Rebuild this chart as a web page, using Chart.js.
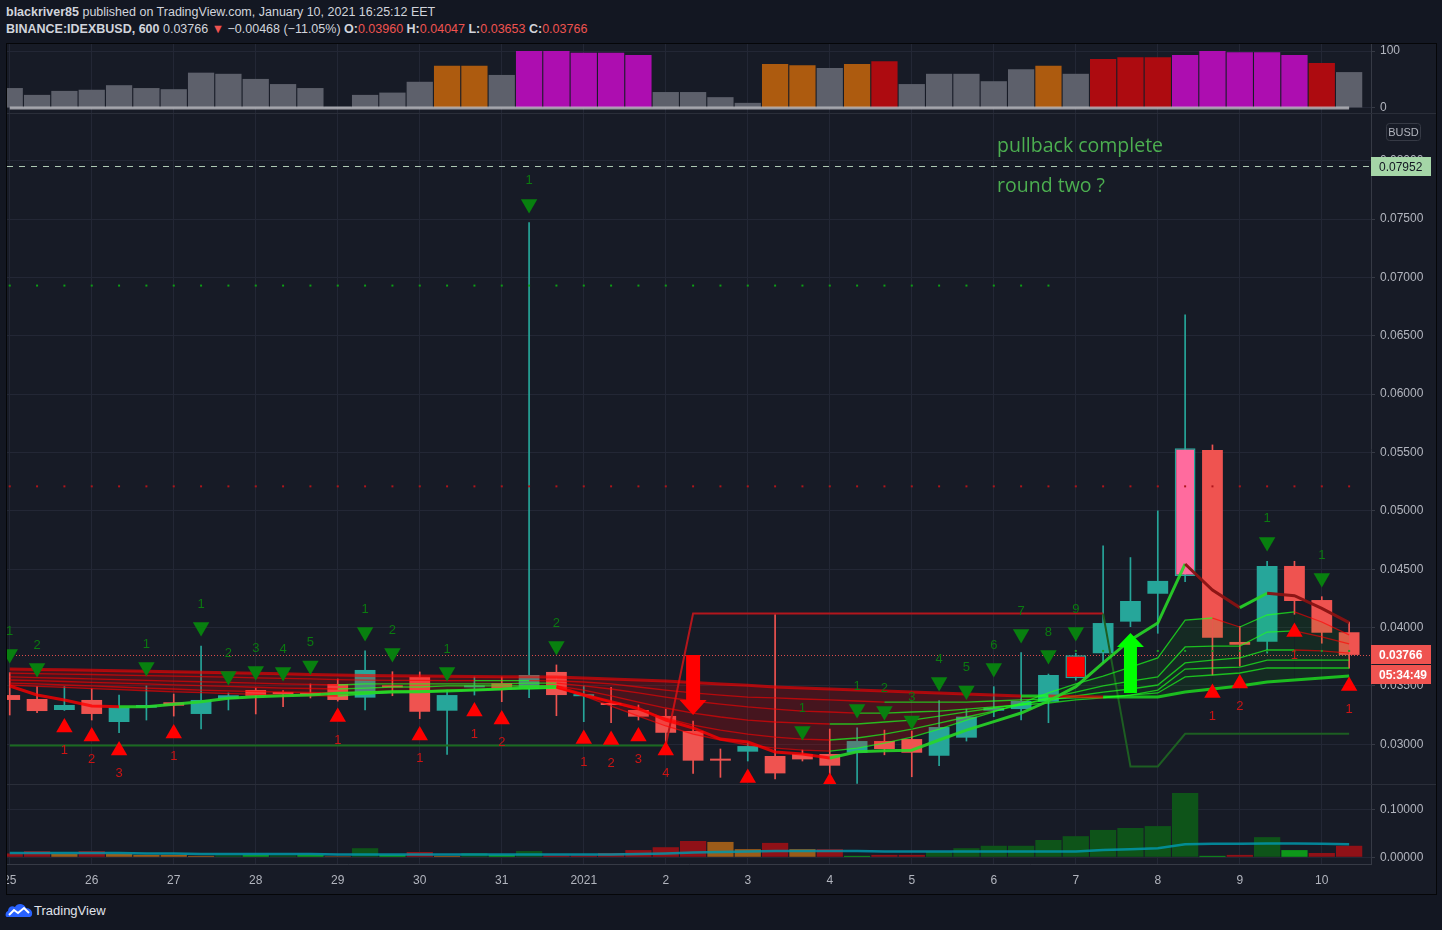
<!DOCTYPE html>
<html>
<head>
<meta charset="utf-8">
<title>IDEXBUSD</title>
<script src="https://cdn.jsdelivr.net/npm/chart.js@4.4.1/dist/chart.umd.min.js"></script>
<style>
  html, body { margin: 0; padding: 0; }
  body { width: 1442px; height: 930px; background: #131722; overflow: hidden; position: relative;
         font-family: "Liberation Sans", Arial, sans-serif; color: #d1d4dc; }
  .hdr { position: absolute; left: 6px; font-size: 12.5px; white-space: nowrap; }
  #hdr1 { top: 5px; }
  #hdr2 { top: 22px; }
  .r { color: #ef5350; }
  #frame { position: absolute; left: 6px; top: 43px; width: 1429px; height: 850px; border: 1px solid #050608; background: #171b26; }
  .pane { position: absolute; left: 7px; width: 1429px; }
  .sep { position: absolute; left: 7px; width: 1429px; height: 1px; background: #2a2e39; }
  #logo { position: absolute; left: 5px; top: 902px; display: flex; align-items: center; font-size: 13px; color: #e0e3eb; }
  #logo svg { margin-right: 1px; }
</style>
</head>
<body>
<div id="hdr1" class="hdr"><b>blackriver85</b> published on TradingView.com, January 10, 2021 16:25:12 EET</div>
<div id="hdr2" class="hdr"><b>BINANCE:IDEXBUSD, 600</b> 0.03766 <span class="r">▼</span> −0.00468 (−11.05%) <b>O:</b><span class="r">0.03960</span> <b>H:</b><span class="r">0.04047</span> <b>L:</b><span class="r">0.03653</span> <b>C:</b><span class="r">0.03766</span></div>
<div id="frame"></div>
<div class="pane" style="top:44px;height:69px"><canvas id="cTop"></canvas></div>
<div class="sep" style="top:113px"></div>
<div class="pane" style="top:114px;height:670px"><canvas id="cMain"></canvas></div>
<div class="sep" style="top:784px"></div>
<div class="pane" style="top:785px;height:108px"><canvas id="cVol"></canvas></div>
<div id="logo">
  <svg width="28" height="16" viewBox="0 0 28 16"><path d="M2 15 C0 15 0 10 3 9 C3 5 7 3 10 5 C12 1 19 1 21 6 C25 6 28 9 27 13 C26 15 25 15 24 15 Z" fill="#2962ff"/><path d="M4 13 L9 8 L13 11 L19 6 L24 11" stroke="#fff" stroke-width="2" fill="none"/></svg>
  <span>TradingView</span>
</div>
<script>
// ---- data ----
const dayLabels = ['25','26','27','28','29','30','31','2021','2','3','4','5','6','7','8','9','10'];
const dayStart  = [0,3,6,9,12,15,18,21,24,27,30,33,36,39,42,45,48];

const opens  = [0.03422,0.03388,0.03294,0.03380,0.03191,0.03314,0.03360,0.03260,0.03388,0.03465,
                0.03448,0.03442,0.03517,0.03400,0.03498,0.03577,0.03288,0.03488,0.03523,0.03476,
                0.03620,0.03412,0.03340,0.03294,0.03243,0.03114,0.02862,0.02937,0.02900,0.02917,
                0.02917,0.02928,0.03028,0.03045,0.02902,0.03057,0.03288,0.03302,0.03365,0.03763,
                0.03780,0.04051,0.04290,0.04442,0.05522,0.03877,0.03879,0.04528,0.04236,0.03960];
const highs  = [0.03614,0.03494,0.03494,0.03476,0.03422,0.03500,0.03431,0.03842,0.03440,0.03482,
                0.03460,0.03517,0.03560,0.03800,0.03622,0.03620,0.03465,0.03577,0.03577,0.07470,
                0.03680,0.03500,0.03488,0.03337,0.03300,0.03200,0.02960,0.03014,0.04111,0.02951,
                0.03131,0.03142,0.03122,0.03114,0.03374,0.03302,0.03494,0.03785,0.03602,0.03780,
                0.04700,0.04600,0.05000,0.06680,0.05565,0.04010,0.04568,0.04568,0.04265,0.04047];
const lows   = [0.03251,0.03271,0.03290,0.03208,0.03099,0.03208,0.03242,0.03131,0.03294,0.03260,
                0.03322,0.03397,0.03370,0.03294,0.03416,0.03220,0.02914,0.03422,0.03365,0.03400,
                0.03245,0.03194,0.03185,0.03208,0.03000,0.02751,0.02717,0.02857,0.02703,0.02857,
                0.02700,0.02666,0.02910,0.02722,0.02817,0.03028,0.03237,0.03208,0.03185,0.03550,
                0.03700,0.04008,0.03951,0.04393,0.03594,0.03670,0.03780,0.04114,0.03866,0.03653];
const closes = [0.03380,0.03285,0.03337,0.03260,0.03314,0.03337,0.03331,0.03380,0.03420,0.03416,
                0.03431,0.03422,0.03380,0.03637,0.03488,0.03279,0.03422,0.03505,0.03471,0.03594,
                0.03422,0.03414,0.03337,0.03237,0.03099,0.02860,0.02860,0.02985,0.02751,0.02871,
                0.02817,0.03028,0.02960,0.02928,0.03148,0.03237,0.03314,0.03371,0.03594,0.03566,
                0.04039,0.04228,0.04400,0.05536,0.03913,0.03853,0.04528,0.04228,0.03956,0.03766];

// ribbon of moving averages, slowest (rib1) to faster (rib6), plus the fast line
const rib1 = [0.03645,0.03642,0.03638,0.03634,0.03630,0.03626,0.03622,0.03618,0.03613,0.03609,0.03604,0.03599,0.03594,
              0.03590,0.03587,0.03585,0.03583,0.03581,0.03579,0.03578,0.03577,
              0.03568,0.03560,0.03551,0.03542,0.03530,0.03517,0.03505,0.03491,0.03482,0.03474,
              0.03465,0.03457,0.03448,0.03440,0.03431,0.03422,0.03414,
              0.03414,0.03410,0.03405,0.03405,0.03405,
              0.03448,0.03474,0.03500,0.03534,0.03551,0.03568,0.03585];
const rib2 = [0.03610,0.03606,0.03602,0.03598,0.03593,0.03589,0.03584,0.03580,0.03575,0.03570,0.03565,0.03560,0.03555,
              0.03550,0.03548,0.03547,0.03546,0.03545,0.03545,0.03545,0.03543,
              0.03534,0.03517,0.03491,0.03465,0.03440,0.03422,0.03405,0.03397,0.03388,0.03380,
              0.03371,0.03362,0.03362,0.03362,0.03362,0.03371,0.03380,
              0.03388,0.03397,0.03405,0.03422,0.03440,
              0.03577,0.03594,0.03611,0.03654,0.03654,0.03654,0.03654];
const rib3 = [0.03577,0.03572,0.03566,0.03560,0.03554,0.03548,0.03542,0.03536,0.03530,0.03524,0.03518,0.03513,0.03508,
              0.03517,0.03517,0.03517,0.03517,0.03517,0.03517,0.03525,0.03525,
              0.03500,0.03474,0.03440,0.03405,0.03371,0.03345,0.03320,0.03302,0.03285,0.03277,
              0.03268,0.03268,0.03277,0.03285,0.03302,0.03320,0.03337,
              0.03354,0.03380,0.03397,0.03422,0.03465,
              0.03645,0.03654,0.03662,0.03722,0.03722,0.03722,0.03722];
const rib4 = [0.03551,0.03545,0.03538,0.03531,0.03524,0.03517,0.03510,0.03503,0.03496,0.03489,0.03482,0.03478,0.03474,
              0.03482,0.03491,0.03491,0.03500,0.03500,0.03500,0.03500,0.03500,
              0.03465,0.03414,0.03362,0.03311,0.03268,0.03234,0.03208,0.03191,0.03182,0.03174,
              0.03174,0.03191,0.03208,0.03242,0.03277,0.03311,0.03345,
              0.03380,0.03414,0.03448,0.03474,0.03508,
              0.03697,0.03722,0.03740,0.03808,0.03808,0.03800,0.03782];
const rib5 = [0.03525,0.03517,0.03508,0.03500,0.03491,0.03482,0.03474,0.03465,0.03457,0.03452,0.03448,0.03444,0.03440,
              0.03448,0.03457,0.03457,0.03465,0.03465,0.03474,0.03474,0.03482,
              0.03431,0.03362,0.03294,0.03225,0.03165,0.03122,0.03088,0.03062,0.03045,0.03037,
              0.03054,0.03088,0.03131,0.03182,0.03234,0.03285,0.03337,
              0.03397,0.03448,0.03500,0.03542,0.03577,
              0.03834,0.03842,0.03842,0.03962,0.03971,0.03920,0.03860];
const rib6 = [0.03508,0.03497,0.03487,0.03477,0.03468,0.03459,0.03450,0.03442,0.03434,0.03428,0.03422,0.03418,0.03414,
              0.03431,0.03448,0.03448,0.03457,0.03465,0.03474,0.03482,0.03482,
              0.03414,0.03328,0.03242,0.03157,0.03088,0.03037,0.02994,0.02968,0.02951,0.02942,
              0.02968,0.03011,0.03062,0.03131,0.03208,0.03277,0.03354,
              0.03440,0.03517,0.03585,0.03662,0.03740,
              0.04065,0.04082,0.04005,0.04108,0.04134,0.04048,0.03937];
const fastLine = [0.03500,0.03423,0.03380,0.03328,
                  0.03322,0.03322,0.03343,0.03365,0.03394,0.03408,0.03416,0.03422,0.03437,
                  0.03440,0.03448,0.03451,0.03457,0.03465,0.03474,0.03490,0.03494,
                  0.03422,0.03365,0.03308,0.03208,0.03140,0.03045,0.03020,0.02934,0.02917,0.02883,
                  0.02937,0.02945,0.02950,0.03037,0.03122,0.03194,0.03268,0.03371,0.03494,0.03697,0.03894,0.04039,
                  0.04545,0.04322,0.04171,0.04294,0.04273,0.04165,0.04042];
const stopLine = [0.0299,0.0299,0.0299,0.0299,0.0299,0.0299,0.0299,0.0299,0.0299,0.0299,
                  0.0299,0.0299,0.0299,0.0299,0.0299,0.0299,0.0299,0.0299,0.0299,0.0299,
                  0.0299,0.0299,0.0299,0.0299,0.0299,
                  0.0412,0.0412,0.0412,0.0412,0.0412,0.0412,0.0412,0.0412,
                  0.0412,0.0412,0.0412,0.0412,0.0412,0.0412,0.0412,0.0412,
                  0.0281,0.0281,
                  0.0309,0.0309,0.0309,0.0309,0.0309,0.0309,0.0309];

// signal markers
const sellIdx   = [0,1,5,7,8,9,10,11,13,14,16,19,20,29,31,32,33,34,35,36,37,38,39,46,48];
const sellPx    = [0.03774,0.03654,0.03662,0.04005,0.03585,0.03628,0.03620,0.03675,0.03962,0.03782,0.03620,0.07630,0.03842,
                   0.03114,0.03302,0.03285,0.03204,0.03534,0.03461,0.03654,0.03945,0.03765,0.03962,0.04734,0.04425];
const sellCount = [1,2,1,1,2,3,4,5,1,2,1,1,2,1,1,2,3,4,5,6,7,8,9,1,1];
const buyIdx    = [2,3,4,6,12,15,17,18,21,22,23,24,27,30,44,45,47,49];
const buyPx     = [0.03144,0.03067,0.02947,0.03092,0.03234,0.03075,0.03281,0.03212,0.03045,0.03037,0.03067,0.02947,
                   0.02711,0.02677,0.03440,0.03521,0.03962,0.03500];
const buyCount  = [1,2,3,1,1,1,1,2,1,2,3,4,1,2,1,2,1,1];

const greenDotLevel = 0.0693, greenDotLast = 38;
const redDotLevel = 0.0521;
const signalDotLevel = 0.0380, signalDotFirst = 39;
const levelPrice = 0.07952;
const arrowDown = { i: 25, from: 0.03766, to: 0.03252 };
const arrowUp   = { i: 41, from: 0.03440, to: 0.03954 };
const notes = [{ i: 36.12, p: 0.08118, text: 'pullback complete' }, { i: 36.12, p: 0.07777, text: 'round two ?' }];
const countdown = '05:34:49';

const topVals  = [35,23,30,32,40,35,33,62,60,51,42,35,2,23,27,46,74,74,58,100,100,97,97,93,28,
                  28,19,9,77,75,70,77,82,42,60,60,47,68,74,60,86,89,89,93,100,98,98,93,79,63];
const topClass = ['n','n','n','n','n','n','n','n','n','n','n','n','n','n','n','n','o','o','n','m','m','m','m','m','n',
                  'n','n','n','o','o','n','o','r','n','n','n','n','n','o','n','r','r','r','m','m','m','m','m','r','n'];
const volVals  = [0.008,0.013,0.007,0.013,0.007,0.005,0.005,0.003,0.004,0.005,0.004,0.005,0.002,0.019,0.005,0.011,0.003,
                  0.009,0.005,0.013,0.004,0.004,0.009,0.015,0.021,0.034,0.032,0.017,0.030,0.017,0.017,0.003,0.005,0.005,
                  0.011,0.019,0.024,0.024,0.036,0.044,0.057,0.061,0.065,0.134,0.003,0.005,0.042,0.015,0.009,0.024];
const volClass = ['r','r','o','r','o','o','o','o','d','g','d','g','o','d','g','r','o','d','g','d','r','r','r','r','r',
                  'r','o','o','r','o','r','g','r','r','d','d','d','d','d','d','d','d','d','d','g','r','d','g','r','r'];
const volMa    = [0.009,0.009,0.009,0.009,0.009,0.008,0.008,0.007,0.007,0.007,0.007,0.007,0.006,0.006,0.006,0.006,0.006,
                  0.006,0.006,0.006,0.006,0.006,0.006,0.007,0.008,0.010,0.011,0.012,0.013,0.013,0.013,0.013,0.012,0.012,
                  0.012,0.012,0.012,0.012,0.012,0.012,0.015,0.017,0.019,0.027,0.028,0.028,0.029,0.029,0.028,0.027];

const priceTicks = [0.03,0.035,0.04,0.045,0.05,0.055,0.06,0.065,0.07,0.075,0.08];
const topTicks = [0, 100];
const volTicks = [0, 0.1];

// ---- styles ----
const TEAL = '#26a69a', RED = '#ef5350';
const bodyOverride = { 39: { fill: '#ff0000', edge: TEAL }, 43: { fill: '#ff6b9e', edge: TEAL } };
const TOP_COL = { n: '#5d606b', o: '#ad5b0f', m: '#ad0db0', r: '#ad0b10' };
const VOL_COL = { r: '#901117', o: '#9c5c19', d: '#0e5419', g: '#0e981a' };
const GRID = '#232735', AXIS = '#363a45';
const X_MIN = -0.1, X_MAX = 49.8;
const FONT = '"Liberation Sans", Arial, sans-serif';

Chart.defaults.font.family = FONT;
Chart.defaults.font.size = 12;
Chart.defaults.color = '#b2b5be';

const idx = opens.map((_, i) => i);
const series = vals => vals.map((v, i) => ({ x: i, y: v }));
const isUp = i => closes[i] >= opens[i];
const bodyFill = i => bodyOverride[i] ? bodyOverride[i].fill : (isUp(i) ? TEAL : RED);
const bodyEdge = i => bodyOverride[i] ? bodyOverride[i].edge : bodyFill(i);

function xAxis(withLabels) {
  return {
    type: 'linear', min: X_MIN, max: X_MAX, offset: false,
    grid: { color: GRID, drawTicks: false, offset: false },
    border: { display: withLabels, color: AXIS },
    ticks: { display: withLabels, autoSkip: false, maxRotation: 0, padding: 9, callback: (v, k) => dayLabels[k] },
    afterBuildTicks: s => { s.ticks = dayStart.map(v => ({ value: v })); },
    afterFit: s => { s.paddingLeft = 0; s.paddingRight = 0; s.height = withLabels ? 29 : 0; }
  };
}
function yAxis(min, max, ticks, fmt) {
  return {
    type: 'linear', position: 'right', min: min, max: max,
    grid: { color: GRID, tickLength: 4, tickColor: AXIS },
    border: { color: AXIS },
    ticks: { padding: 5, callback: fmt },
    afterBuildTicks: s => { s.ticks = ticks.map(v => ({ value: v })); },
    afterFit: s => { s.width = 65; s.paddingTop = 0; s.paddingBottom = 0; }
  };
}
function baseOpts(scales) {
  return {
    responsive: true, maintainAspectRatio: false, animation: false, devicePixelRatio: 1, events: [],
    layout: { padding: 0, autoPadding: false },
    plugins: { legend: { display: false }, tooltip: { enabled: false } },
    scales: scales
  };
}

// ---- top pane ----
new Chart('cTop', {
  type: 'bar',
  data: { datasets: [
    { type: 'line', data: idx.map(i => ({ x: i, y: 0 })), borderColor: 'rgba(200,200,205,0.75)', borderWidth: 3, pointRadius: 0, order: 0 },
    { data: series(topVals), backgroundColor: idx.map(i => TOP_COL[topClass[i]]), barPercentage: 0.96, categoryPercentage: 1, order: 1 }
  ] },
  options: baseOpts({ x: xAxis(false), y: yAxis(-8.8, 112.3, topTicks, v => String(v)) })
});

// ---- main pane ----
const slope = (up, down) => c => c.p1.parsed.y >= c.p0.parsed.y ? up : down;
const ribGreen = 'rgba(30,255,30,0.7)', ribRed = 'rgba(255,0,0,0.62)';
function ribbon(vals, w) {
  return { type: 'line', data: series(vals), borderColor: ribRed, borderWidth: w, pointRadius: 0, tension: 0,
           segment: { borderColor: slope(ribGreen, ribRed) }, order: 3 };
}
function dots(level, from, to, color) {
  return { type: 'line', data: idx.filter(i => i >= from && i <= to).map(i => ({ x: i, y: level })), showLine: false,
           pointStyle: 'rect', pointRadius: 1.4, pointBackgroundColor: color, pointBorderWidth: 0, order: 1 };
}
const mainSets = [
  { type: 'line', data: sellIdx.map((i, k) => ({ x: i, y: sellPx[k] })), showLine: false, pointStyle: 'triangle',
    pointRotation: 180, pointRadius: 9.5, pointBackgroundColor: '#08800f', pointBorderWidth: 0, order: 0 },
  { type: 'line', data: buyIdx.map((i, k) => ({ x: i, y: buyPx[k] })), showLine: false, pointStyle: 'triangle',
    pointRadius: 9.5, pointBackgroundColor: '#ff0000', pointBorderWidth: 0, order: 0 },
  dots(greenDotLevel, 0, greenDotLast, '#0ca014'),
  dots(redDotLevel, 0, idx.length - 1, '#b0151b'),
  dots(signalDotLevel, signalDotFirst, idx.length - 1, '#1c9c24'),
  { type: 'line', data: series(fastLine), borderColor: 'rgba(255,0,0,0.8)', borderWidth: 3, pointRadius: 0, order: 2,
    segment: { borderColor: c => c.p1.parsed.y >= c.p0.parsed.y ? 'rgba(40,215,40,0.9)' : (c.p0DataIndex >= 43 ? 'rgba(135,18,18,0.95)' : 'rgba(255,0,0,0.8)') } },
  ribbon(rib1, 3), ribbon(rib2, 1.3), ribbon(rib3, 1.3), ribbon(rib4, 1.3), ribbon(rib5, 1.3), ribbon(rib6, 1.3),
  { type: 'line', data: series(stopLine), borderColor: '#1b6f1f', borderWidth: 2, pointRadius: 0, order: 4,
    segment: { borderColor: c => c.p0DataIndex < 24 ? '#1b6b20' : (c.p0DataIndex < 40 ? '#b3161c' : '#1d5e22') } },
  { data: idx.map(i => ({ x: i, y: [opens[i], closes[i]] })), backgroundColor: idx.map(bodyFill), borderColor: idx.map(bodyEdge),
    borderWidth: idx.map(i => bodyOverride[i] ? 1.5 : 0), borderSkipped: false, barPercentage: 0.76, categoryPercentage: 1,
    grouped: false, minBarLength: 2, order: 5 },
  { data: idx.map(i => ({ x: i, y: [lows[i], highs[i]] })), backgroundColor: idx.map(bodyEdge), barThickness: 1,
    grouped: false, order: 6 }
];
const r1Index = 6;
mainSets[r1Index + 5].fill = { target: r1Index, above: 'rgba(0,230,0,0.08)', below: 'rgba(255,0,0,0.2)' };

function drawArrow(ctx, x, y0, y1, color, shaftW, headW, headH) {
  const dir = y1 > y0 ? 1 : -1;
  const yh = y1 - dir * headH;
  ctx.fillStyle = color;
  ctx.beginPath();
  ctx.moveTo(x - shaftW / 2, y0); ctx.lineTo(x + shaftW / 2, y0); ctx.lineTo(x + shaftW / 2, yh);
  ctx.lineTo(x + headW / 2, yh); ctx.lineTo(x, y1); ctx.lineTo(x - headW / 2, yh); ctx.lineTo(x - shaftW / 2, yh);
  ctx.closePath(); ctx.fill();
}
function tag(ctx, x, yc, w, h, bg, fg, txt, bold) {
  ctx.fillStyle = bg; ctx.fillRect(x, Math.round(yc - h / 2), w, h);
  ctx.fillStyle = fg; ctx.font = (bold ? 'bold ' : '') + '12px ' + FONT;
  ctx.textAlign = 'left'; ctx.textBaseline = 'middle'; ctx.fillText(txt, x + 8, yc + 1);
}

const overlay = {
  id: 'overlay',
  beforeDatasetsDraw(chart) {
    const { ctx, chartArea: a, scales: { y } } = chart;
    ctx.save();
    ctx.lineWidth = 1;
    let py = Math.round(y.getPixelForValue(levelPrice)) + 0.5;
    ctx.strokeStyle = 'rgba(200,230,205,0.85)'; ctx.setLineDash([6, 6]);
    ctx.beginPath(); ctx.moveTo(a.left, py); ctx.lineTo(a.right, py); ctx.stroke();
    py = Math.round(y.getPixelForValue(closes[closes.length - 1])) + 0.5;
    ctx.strokeStyle = 'rgba(239,83,80,0.9)'; ctx.setLineDash([1, 2]);
    ctx.beginPath(); ctx.moveTo(a.left, py); ctx.lineTo(a.right, py); ctx.stroke();
    ctx.restore();
  },
  afterDatasetsDraw(chart) {
    const { ctx, chartArea: a, scales: { x, y } } = chart;
    ctx.save();
    ctx.beginPath(); ctx.rect(a.left, a.top, a.right - a.left, a.bottom - a.top); ctx.clip();
    ctx.font = '13px ' + FONT; ctx.textAlign = 'center'; ctx.textBaseline = 'middle';
    ctx.fillStyle = '#0b7a10';
    sellIdx.forEach((i, k) => ctx.fillText(String(sellCount[k]), x.getPixelForValue(i), y.getPixelForValue(sellPx[k]) - 23));
    ctx.fillStyle = '#cc1414';
    buyIdx.forEach((i, k) => ctx.fillText(String(buyCount[k]), x.getPixelForValue(i), y.getPixelForValue(buyPx[k]) + 23));
    drawArrow(ctx, x.getPixelForValue(arrowDown.i), y.getPixelForValue(arrowDown.from), y.getPixelForValue(arrowDown.to), '#ff0000', 14, 27, 15);
    drawArrow(ctx, x.getPixelForValue(arrowUp.i), y.getPixelForValue(arrowUp.from), y.getPixelForValue(arrowUp.to), '#00ff00', 13, 27, 14);
    ctx.font = '19.5px "Open Sans", sans-serif'; ctx.textAlign = 'left'; ctx.fillStyle = '#4caf50';
    notes.forEach(n => ctx.fillText(n.text, x.getPixelForValue(n.i), y.getPixelForValue(n.p)));
    ctx.restore();
  },
  afterDraw(chart) {
    const { ctx, chartArea: a, scales: { y } } = chart;
    ctx.save();
    tag(ctx, a.right, y.getPixelForValue(levelPrice), 60, 19, '#a5d6a7', '#131722', levelPrice.toFixed(5), false);
    const pc = y.getPixelForValue(closes[closes.length - 1]);
    tag(ctx, a.right, pc, 60, 19, RED, '#ffffff', closes[closes.length - 1].toFixed(5), true);
    tag(ctx, a.right, pc + 19.5, 60, 19, RED, '#ffffff', countdown, true);
    ctx.strokeStyle = AXIS; ctx.lineWidth = 1;
    ctx.beginPath();
    ctx.roundRect(a.right + 15.5, 9.5, 34, 17, 3);
    ctx.stroke();
    ctx.fillStyle = '#b2b5be'; ctx.font = '11px ' + FONT; ctx.textAlign = 'center'; ctx.textBaseline = 'middle';
    ctx.fillText('BUSD', a.right + 32.5, 18.5);
    ctx.restore();
  }
};

new Chart('cMain', {
  type: 'bar',
  data: { datasets: mainSets },
  options: baseOpts({ x: xAxis(false), y: yAxis(0.0266, 0.0840, priceTicks, v => v.toFixed(5)) }),
  plugins: [overlay]
});

// ---- volume pane ----
new Chart('cVol', {
  type: 'bar',
  data: { datasets: [
    { type: 'line', data: series(volMa), borderColor: 'rgba(0,150,170,0.85)', borderWidth: 2.5, pointRadius: 0, order: 0 },
    { data: series(volVals), backgroundColor: idx.map(i => VOL_COL[volClass[i]]), barPercentage: 0.96, categoryPercentage: 1, order: 1 }
  ] },
  options: baseOpts({ x: xAxis(true), y: yAxis(-0.01396, 0.1506, volTicks, v => v.toFixed(5)) })
});
</script>
</body>
</html>
